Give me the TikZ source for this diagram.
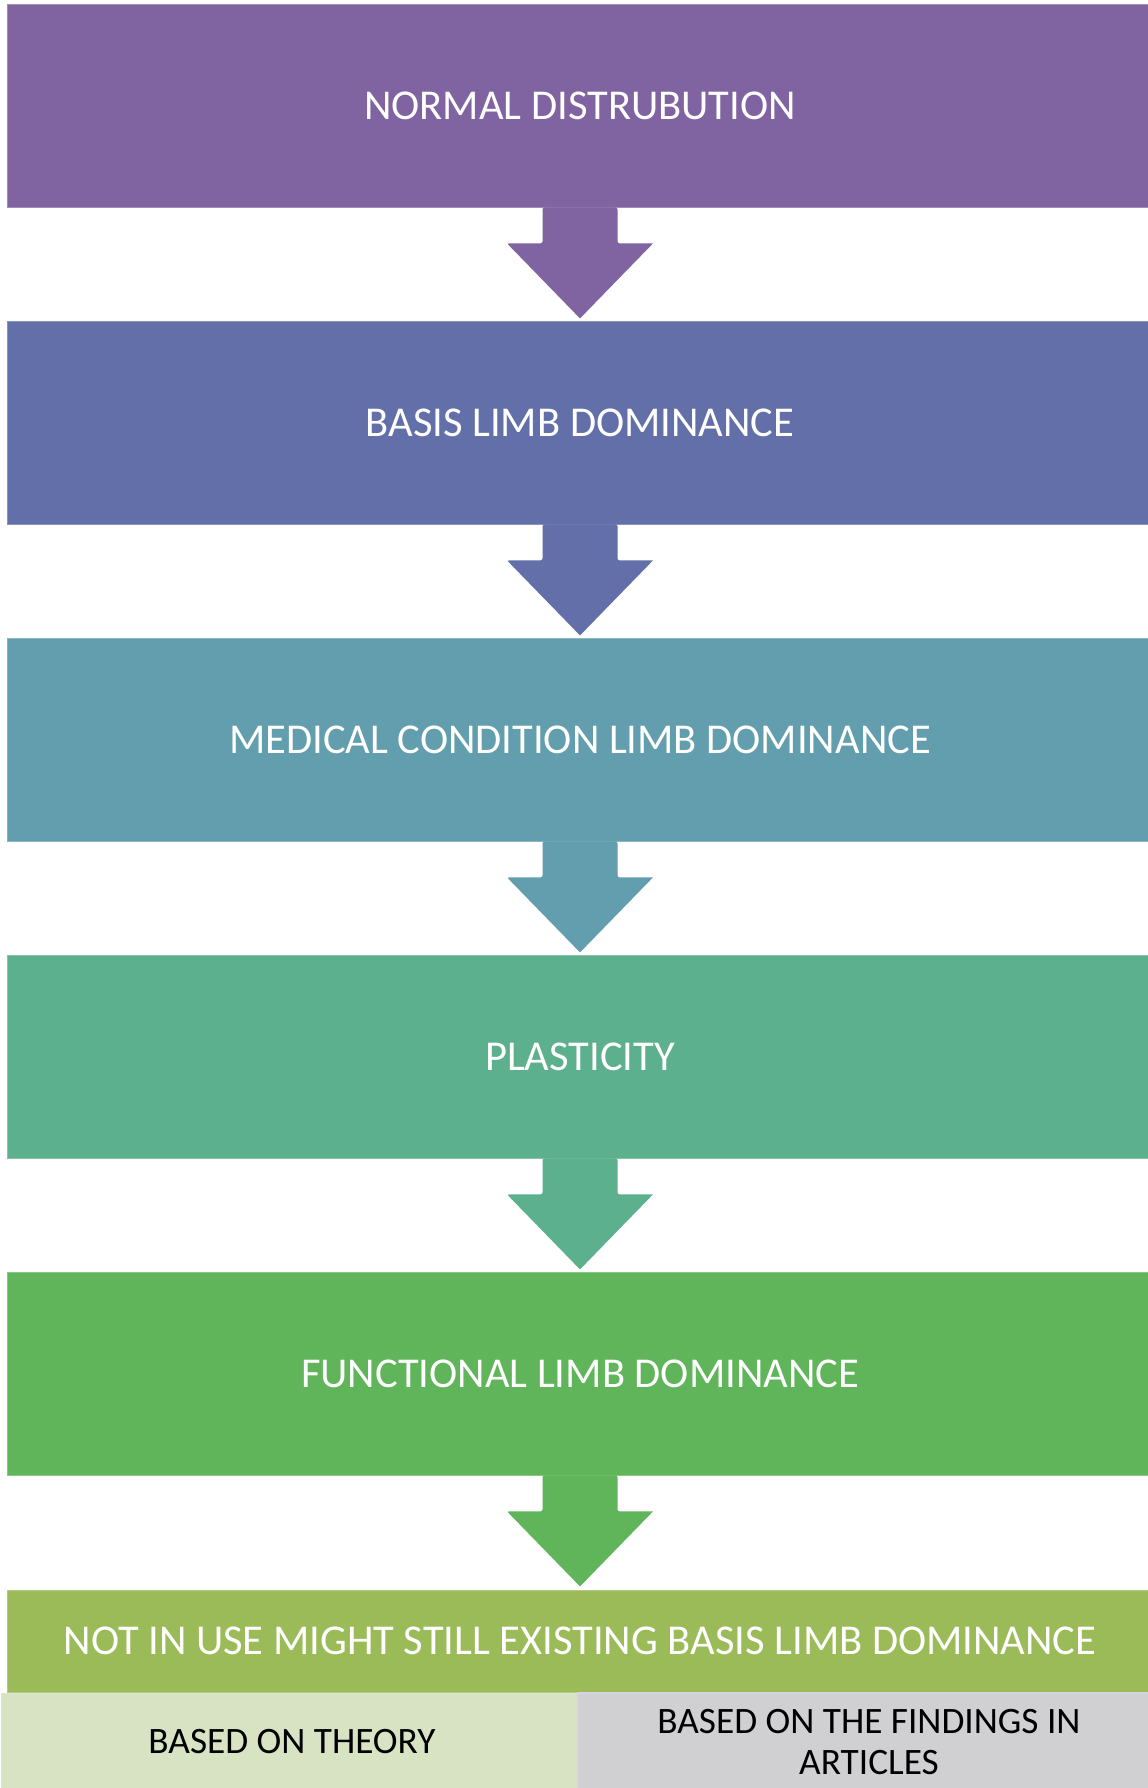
\documentclass[tikz,border=0pt]{standalone}
\usepackage{fontspec}
\setmainfont{Carlito}
\definecolor{cA}{HTML}{8064A2}
\definecolor{cB}{HTML}{636FA8}
\definecolor{cC}{HTML}{629EAD}
\definecolor{cD}{HTML}{5DB08E}
\definecolor{cE}{HTML}{60B55B}
\definecolor{cF}{HTML}{9BBB59}
\definecolor{cG}{HTML}{D7E3C3}
\definecolor{cH}{HTML}{D0D0D3}
\definecolor{cHb}{HTML}{D6D2E2}
\begin{document}
\begin{tikzpicture}[x=1pt,y=-1pt,
  stage/.style={rectangle, inner sep=0pt, minimum width=1146pt, minimum height=203pt,
    fill=#1, draw=#1!75!white, line width=0.8pt, text=white,
    font=\fontsize{42.5}{50}\selectfont},
  result/.style={rectangle, inner sep=0pt, minimum width=1146pt, minimum height=102pt,
    fill=cF, draw=cF!75!white, line width=0.8pt, text=white,
    font=\fontsize{42.5}{50}\selectfont},
  sub/.style={rectangle, inner sep=0pt, minimum height=98pt, text=black,
    align=center, font=\fontsize{37.3}{41}\selectfont}]
\useasboundingbox (0,0) rectangle (1148,1788);
\fill[white] (0,0) rectangle (1148,1788);

\node[stage=cA] (b1) at (580,105.5) {NORMAL DISTRUBUTION};
\node[stage=cB] (b2) at (580,422.5) {BASIS LIMB DOMINANCE};
\node[stage=cC] (b3) at (580,739.5) {MEDICAL CONDITION LIMB DOMINANCE};
\node[stage=cD] (b4) at (580,1056.5) {PLASTICITY};
\node[stage=cE] (b5) at (580,1373.5) {FUNCTIONAL LIMB DOMINANCE};
\node[result] (b6) at (580,1641) {NOT IN USE MIGHT STILL EXISTING BASIS LIMB DOMINANCE};
\node[sub, fill=cG, draw=cG!85!white, line width=1pt, minimum width=582pt] (s1) at (292,1742) {BASED ON THEORY};
\node[sub, fill=cH, draw=cHb, line width=1.5pt, minimum width=582pt] (s2) at (869,1742) {BASED ON THE FINDINGS IN\\ARTICLES};

\foreach \a/\c in {b1/cA,b2/cB,b3/cC,b4/cD,b5/cE}{
  \fill[\c, rounded corners=2pt]
    ([xshift=-37.5pt]\a.south) -- ++(0,36) -- ++(-35.5,0) [sharp corners]
    -- ([yshift=-111pt]\a.south) -- ([xshift=73pt,yshift=-36pt]\a.south)
    [rounded corners=2pt] -- ++(-35.5,0) -- ([xshift=37.5pt]\a.south) -- cycle;
}
\end{tikzpicture}
\end{document}
